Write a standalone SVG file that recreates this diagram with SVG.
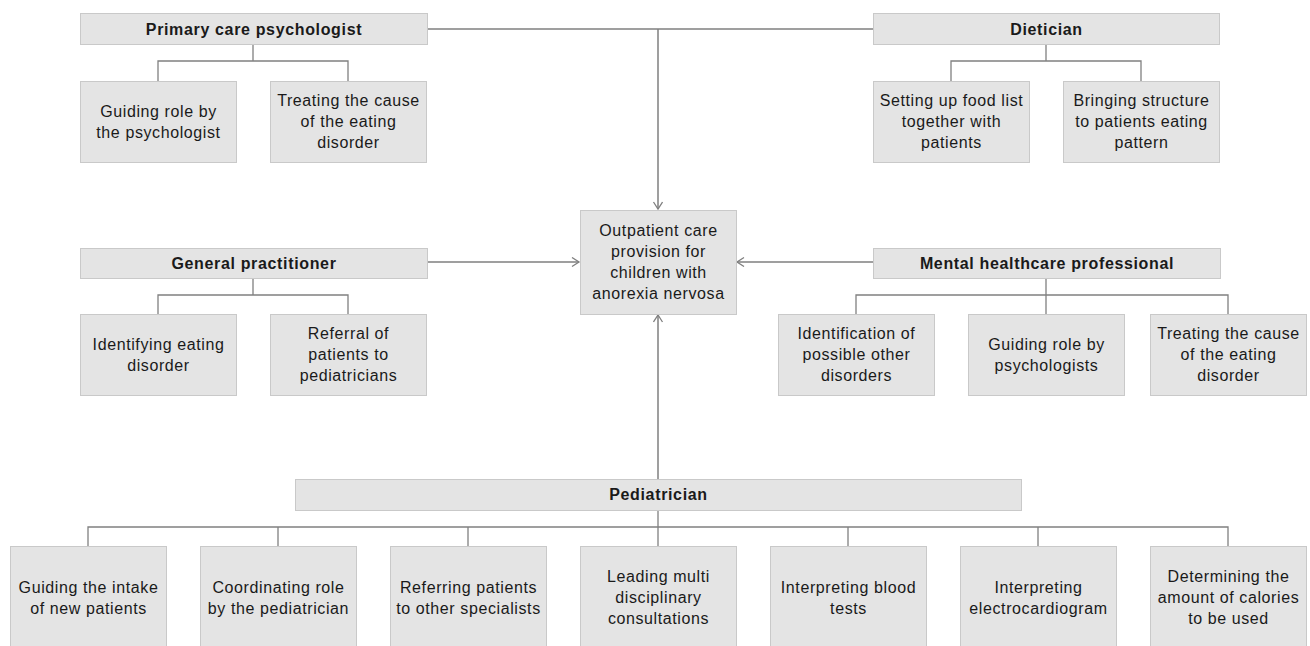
<svg xmlns="http://www.w3.org/2000/svg" width="1310" height="646" viewBox="0 0 1310 646">
<style>
.box{fill:#e4e4e4;stroke:#c9c9c9;stroke-width:1}
.t{font-family:"Liberation Sans",Arial,sans-serif;font-size:16px;letter-spacing:0.6px;fill:#1a1a1a;text-anchor:middle}
.h{font-weight:bold;letter-spacing:0.65px}
.ln{fill:none;stroke:#7f7f7f;stroke-width:1.5}
.br{fill:none;stroke:#808080;stroke-width:1.3}
</style>
<defs>
<marker id="arr" markerUnits="userSpaceOnUse" markerWidth="12" markerHeight="12" refX="8" refY="5" orient="auto">
<path d="M1,0.5 L8,5 L1,9.5" fill="none" stroke="#7f7f7f" stroke-width="1.3"/>
</marker>
</defs>
<rect width="1310" height="646" fill="#ffffff"/>

<g id="connectors">
<path class="ln" d="M427,29 H873"/>
<path class="ln" d="M658,29 V209" marker-end="url(#arr)"/>
<path class="ln" d="M427,262 H579" marker-end="url(#arr)"/>
<path class="ln" d="M873,262 H737" marker-end="url(#arr)"/>
<path class="ln" d="M658,479 V315" marker-end="url(#arr)"/>
<path class="br" d="M253,44 V61 M158,81 V61 H348 V81"/>
<path class="br" d="M1046,44 V61 M951,81 V61 H1141 V81"/>
<path class="br" d="M253,278 V295 M158,314 V295 H348 V314"/>
<path class="br" d="M1046,278 V314 M856,314 V295 H1228 V314"/>
<path class="br" d="M658,510 V546 M88,546 V527 H1228 V546 M278,527 V546 M468,527 V546 M848,527 V546 M1038,527 V546"/>
</g>

<g id="center">
<rect class="box" x="580.5" y="210.5" width="156" height="104"/>
<text class="t"><tspan x="658.5" y="236">Outpatient care</tspan><tspan x="658.5" y="257">provision for</tspan><tspan x="658.5" y="278">children with</tspan><tspan x="658.5" y="299">anorexia nervosa</tspan></text>
</g>

<g id="primary-care-psychologist">
<rect class="box" x="80.5" y="13.5" width="347" height="31"/>
<text class="t h" x="254" y="35">Primary care psychologist</text>
</g>
<g id="pcp-guiding">
<rect class="box" x="80.5" y="81.5" width="156" height="81"/>
<text class="t"><tspan x="158.5" y="117">Guiding role by</tspan><tspan x="158.5" y="138">the psychologist</tspan></text>
</g>
<g id="pcp-treating">
<rect class="box" x="270.5" y="81.5" width="156" height="81"/>
<text class="t"><tspan x="348.5" y="106">Treating the cause</tspan><tspan x="348.5" y="127">of the eating</tspan><tspan x="348.5" y="148">disorder</tspan></text>
</g>

<g id="dietician">
<rect class="box" x="873.5" y="13.5" width="346" height="31"/>
<text class="t h" x="1046.5" y="35">Dietician</text>
</g>
<g id="diet-food">
<rect class="box" x="873.5" y="81.5" width="156" height="81"/>
<text class="t"><tspan x="951.5" y="106">Setting up food list</tspan><tspan x="951.5" y="127">together with</tspan><tspan x="951.5" y="148">patients</tspan></text>
</g>
<g id="diet-structure">
<rect class="box" x="1063.5" y="81.5" width="156" height="81"/>
<text class="t"><tspan x="1141.5" y="106">Bringing structure</tspan><tspan x="1141.5" y="127">to patients eating</tspan><tspan x="1141.5" y="148">pattern</tspan></text>
</g>

<g id="general-practitioner">
<rect class="box" x="80.5" y="248.5" width="347" height="30"/>
<text class="t h" x="254" y="269">General practitioner</text>
</g>
<g id="gp-identifying">
<rect class="box" x="80.5" y="314.5" width="156" height="81"/>
<text class="t"><tspan x="158.5" y="350">Identifying eating</tspan><tspan x="158.5" y="371">disorder</tspan></text>
</g>
<g id="gp-referral">
<rect class="box" x="270.5" y="314.5" width="156" height="81"/>
<text class="t"><tspan x="348.5" y="339">Referral of</tspan><tspan x="348.5" y="360">patients to</tspan><tspan x="348.5" y="381">pediatricians</tspan></text>
</g>

<g id="mental-healthcare-professional">
<rect class="box" x="873.5" y="248.5" width="347" height="30"/>
<text class="t h" x="1047" y="269">Mental healthcare professional</text>
</g>
<g id="mhp-identification">
<rect class="box" x="778.5" y="314.5" width="156" height="81"/>
<text class="t"><tspan x="856.5" y="339">Identification of</tspan><tspan x="856.5" y="360">possible other</tspan><tspan x="856.5" y="381">disorders</tspan></text>
</g>
<g id="mhp-guiding">
<rect class="box" x="968.5" y="314.5" width="156" height="81"/>
<text class="t"><tspan x="1046.5" y="350">Guiding role by</tspan><tspan x="1046.5" y="371">psychologists</tspan></text>
</g>
<g id="mhp-treating">
<rect class="box" x="1150.5" y="314.5" width="156" height="81"/>
<text class="t"><tspan x="1228.5" y="339">Treating the cause</tspan><tspan x="1228.5" y="360">of the eating</tspan><tspan x="1228.5" y="381">disorder</tspan></text>
</g>

<g id="pediatrician">
<rect class="box" x="295.5" y="479.5" width="726" height="31"/>
<text class="t h" x="658.5" y="500">Pediatrician</text>
</g>
<g id="ped-1">
<rect class="box" x="10.5" y="546.5" width="156" height="104"/>
<text class="t"><tspan x="88.5" y="593">Guiding the intake</tspan><tspan x="88.5" y="614">of new patients</tspan></text>
</g>
<g id="ped-2">
<rect class="box" x="200.5" y="546.5" width="156" height="104"/>
<text class="t"><tspan x="278.5" y="593">Coordinating role</tspan><tspan x="278.5" y="614">by the pediatrician</tspan></text>
</g>
<g id="ped-3">
<rect class="box" x="390.5" y="546.5" width="156" height="104"/>
<text class="t"><tspan x="468.5" y="593">Referring patients</tspan><tspan x="468.5" y="614">to other specialists</tspan></text>
</g>
<g id="ped-4">
<rect class="box" x="580.5" y="546.5" width="156" height="104"/>
<text class="t"><tspan x="658.5" y="582">Leading multi</tspan><tspan x="658.5" y="603">disciplinary</tspan><tspan x="658.5" y="624">consultations</tspan></text>
</g>
<g id="ped-5">
<rect class="box" x="770.5" y="546.5" width="156" height="104"/>
<text class="t"><tspan x="848.5" y="593">Interpreting blood</tspan><tspan x="848.5" y="614">tests</tspan></text>
</g>
<g id="ped-6">
<rect class="box" x="960.5" y="546.5" width="156" height="104"/>
<text class="t"><tspan x="1038.5" y="593">Interpreting</tspan><tspan x="1038.5" y="614">electrocardiogram</tspan></text>
</g>
<g id="ped-7">
<rect class="box" x="1150.5" y="546.5" width="156" height="104"/>
<text class="t"><tspan x="1228.5" y="582">Determining the</tspan><tspan x="1228.5" y="603">amount of calories</tspan><tspan x="1228.5" y="624">to be used</tspan></text>
</g>
</svg>
